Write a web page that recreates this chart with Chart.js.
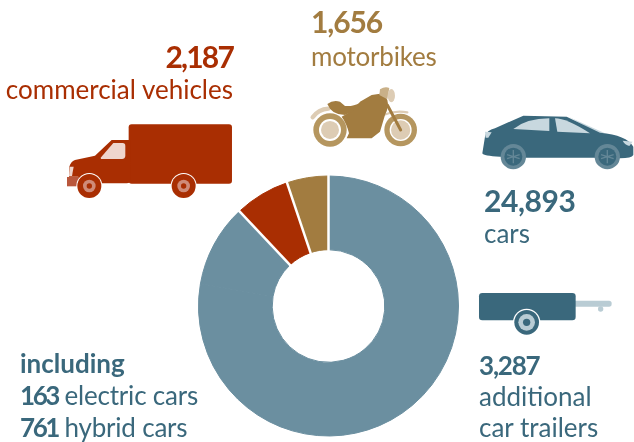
<!DOCTYPE html>
<html>
<head>
<meta charset="utf-8">
<title>Vehicles</title>
<script src="https://cdn.jsdelivr.net/npm/chart.js@4"></script>
<style>
  html, body { margin: 0; padding: 0; background: #fff; }
  #wrap { position: relative; width: 634px; height: 442px; overflow: hidden; }
  #donut, #art { position: absolute; left: 0; top: 0; }
  #art text { font-family: Lato, sans-serif; font-size: 26px; }
  #art .b { font-weight: 700; letter-spacing: -1.2px; }
  #art .n { font-weight: 700; letter-spacing: -2.4px; }
  #art .big { font-size: 30px; font-weight: 700; letter-spacing: -1.1px; }
  .red { fill: #a92e02; }
  .tan { fill: #a27c40; }
  .teal { fill: #3a687c; }
</style>
</head>
<body>
<div id="wrap">
  <canvas id="donut" width="634" height="442"></canvas>
  <svg id="art" width="634" height="442" viewBox="0 0 634 442">
    <!-- truck -->
    <g transform="translate(0,30) scale(0.3333)">
      <rect x="386" y="283" width="310" height="178" rx="9" fill="#a92e02"/>
      <path d="M392 330H335L285 377L225 390Q212 395 208 410L207 440H235V460H380Q392 460 392 450Z" fill="#a92e02"/>
      <path d="M340 339H368Q376 339 376 347V378Q375 387 366 387H303L302 383Z" fill="#efd5cd"/>
      <path d="M209 410H221L216 438H207Z" fill="#efd5cd"/>
      <rect x="201" y="441" width="36" height="28" fill="#b9573c"/>
      <circle cx="268" cy="468" r="39" fill="#fff"/><circle cx="268" cy="468" r="36" fill="#a92e02"/>
      <circle cx="268" cy="468" r="19" fill="#cf8b78"/><circle cx="268" cy="468" r="8" fill="#a92e02"/>
      <circle cx="551" cy="468" r="39" fill="#fff"/><circle cx="551" cy="468" r="36" fill="#a92e02"/>
      <circle cx="551" cy="468" r="19" fill="#cf8b78"/><circle cx="551" cy="468" r="8" fill="#a92e02"/>
    </g>
    <!-- motorbike -->
    <g transform="translate(300,0) scale(0.3333)">
      <path d="M38 352Q55 328 85 326" fill="none" stroke="#ddccb4" stroke-width="13" stroke-linecap="round"/>
      <path d="M250 345Q285 330 322 337" fill="none" stroke="#ddccb4" stroke-width="7" stroke-linecap="round"/>
      <circle cx="90" cy="390" r="50" fill="#b5965f"/><circle cx="90" cy="390" r="33" fill="#fff"/><circle cx="90" cy="390" r="27" fill="#ddccb4"/>
      <circle cx="302" cy="390" r="49" fill="#b5965f"/><circle cx="302" cy="390" r="33" fill="#fff"/><circle cx="302" cy="390" r="29" fill="#ddccb4"/>
      <path d="M125 350Q165 330 180 305L215 285L250 280L262 300Q268 320 255 345L240 395L215 415H140L147 400Q140 370 125 350Z" fill="#a27c40"/>
      <path d="M82 312Q100 298 120 305L135 318Q160 320 180 308Q175 330 135 345Q95 345 82 312Z" fill="#a27c40"/>
      <path d="M240 268Q255 258 268 264L262 298L238 285Z" fill="#c9b088"/>
      <ellipse cx="274" cy="287" rx="11" ry="20" fill="#ddccb4"/>
      <path d="M262 315L302 390" stroke="#a27c40" stroke-width="9" stroke-linecap="round"/>
    </g>
    <!-- car -->
    <g transform="translate(470,100) scale(0.3333)">
      <path d="M295 50L405 100L385 100Z" fill="#c8d8df"/>
      <path d="M37 160L45 110Q50 90 75 85L160 47L290 50L390 98Q470 105 490 140V165Q485 175 450 175L370 173H170L90 170Q40 168 37 160Z" fill="#3a687c"/>
      <path d="M130 87Q170 55 238 55V93Z" fill="#c8d8df"/>
      <path d="M255 55Q290 55 360 100L262 95Z" fill="#c8d8df"/>
      <path d="M45 95L65 97L55 113H47Z" fill="#c8d8df"/>
      <path d="M458 122L488 125L478 138Q465 135 458 122Z" fill="#c8d8df"/>
      <circle cx="130" cy="170" r="38" fill="#648797"/><circle cx="130" cy="170" r="27" fill="#3a687c"/>
      <circle cx="412" cy="170" r="38" fill="#648797"/><circle cx="412" cy="170" r="27" fill="#3a687c"/>
      <path d="M130 150V190M111 164L149 176M149 164L111 176" stroke="#648797" stroke-width="4"/>
      <path d="M412 150V190M393 164L431 176M431 164L393 176" stroke="#648797" stroke-width="4"/>
    </g>
    <!-- trailer -->
    <g transform="translate(470,280) scale(0.3333)">
      <rect x="310" y="62" width="115" height="18" rx="8" fill="#b9ccd4"/>
      <circle cx="392" cy="87" r="8" fill="#b9ccd4"/>
      <rect x="27" y="39" width="290" height="82" rx="10" fill="#3a687c"/>
      <circle cx="170" cy="127" r="41" fill="#fff"/><circle cx="170" cy="127" r="37" fill="#3a687c"/>
      <circle cx="170" cy="127" r="25" fill="#b9ccd4"/><circle cx="170" cy="127" r="11" fill="#3a687c"/>
    </g>
    <!-- labels -->
    <text class="big red" x="233" y="68" text-anchor="end" style="letter-spacing:-1.8px">2,187</text>
    <text class="red" x="233" y="99" text-anchor="end">commercial vehicles</text>
    <text class="big tan" x="311" y="33">1,656</text>
    <text class="tan" x="311" y="66" style="letter-spacing:-0.2px">motorbikes</text>
    <text class="big teal" x="484" y="212" style="letter-spacing:-0.4px">24,893</text>
    <text class="teal" x="484" y="243">cars</text>
    <text class="b teal" x="479" y="375">3,287</text>
    <text class="teal" x="479" y="406">additional</text>
    <text class="teal" x="479" y="437">car trailers</text>
    <text class="teal" x="20" y="373" style="font-weight:700">including</text>
    <text class="teal" x="20" y="405" style="letter-spacing:-0.2px"><tspan class="n">163</tspan> electric cars</text>
    <text class="teal" x="20" y="437" style="letter-spacing:-0.2px"><tspan class="n">761</tspan> hybrid cars</text>
  </svg>
</div>
<script>
// slices run clockwise from the top; trailers are counted with the cars colour
const categories = ["cars", "additional car trailers", "commercial vehicles", "motorbikes"];
const vehicles = [24893, 3287, 2187, 1656];
const sliceColors = ["#6b8fa0", "#6b8fa0", "#a92e02", "#a27c40"];

// white lines only where the colour changes, so cars and trailers read as one slice
const separators = {
  id: "separators",
  afterDatasetDraw(chart) {
    const arcs = chart.getDatasetMeta(0).data;
    const ctx = chart.ctx;
    ctx.save();
    ctx.strokeStyle = "#fff";
    ctx.lineWidth = 2.5;
    arcs.forEach(function (arc, i) {
      const prev = (i + arcs.length - 1) % arcs.length;
      if (sliceColors[prev] === sliceColors[i]) return;
      ctx.beginPath();
      ctx.moveTo(arc.x + Math.cos(arc.startAngle) * (arc.innerRadius - 2), arc.y + Math.sin(arc.startAngle) * (arc.innerRadius - 2));
      ctx.lineTo(arc.x + Math.cos(arc.startAngle) * (arc.outerRadius + 2), arc.y + Math.sin(arc.startAngle) * (arc.outerRadius + 2));
      ctx.stroke();
    });
    ctx.restore();
  },
};

new Chart(document.getElementById("donut").getContext("2d"), {
  type: "doughnut",
  data: {
    labels: categories,
    datasets: [
      {
        data: vehicles,
        backgroundColor: sliceColors,
        borderColor: sliceColors, // hides the hairline between the two blue slices
        borderWidth: 1,
      },
    ],
  },
  options: {
    responsive: false,
    animation: false,
    cutout: "43.3%",
    layout: { padding: { left: 198, right: 175, top: 175.5, bottom: 5.5 } },
    plugins: {
      legend: { display: false },
      tooltip: { enabled: false },
    },
  },
  plugins: [separators],
});
</script>
</body>
</html>
